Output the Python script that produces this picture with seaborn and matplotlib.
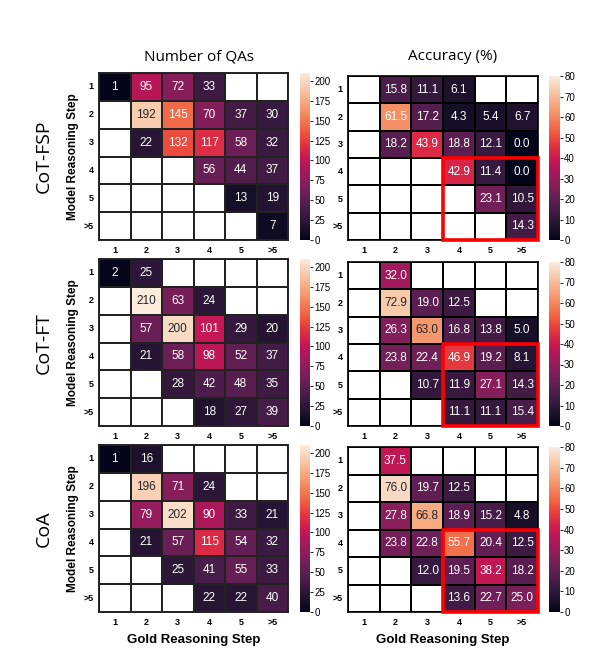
import numpy as np
import pandas as pd
import matplotlib
matplotlib.use("Agg")
import matplotlib.pyplot as plt
import matplotlib.patches as mpatches
import seaborn as sns

nan = np.nan
steps = ["1", "2", "3", "4", "5", ">5"]
methods = ["CoT-FSP", "CoT-FT", "CoA"]

fsp_count = [[1, 95, 72, 33, nan, nan],
             [nan, 192, 145, 70, 37, 30],
             [nan, 22, 132, 117, 58, 32],
             [nan, nan, nan, 56, 44, 37],
             [nan, nan, nan, nan, 13, 19],
             [nan, nan, nan, nan, nan, 7]]
fsp_acc = [[nan, 15.8, 11.1, 6.1, nan, nan],
           [nan, 61.5, 17.2, 4.3, 5.4, 6.7],
           [nan, 18.2, 43.9, 18.8, 12.1, 0.0],
           [nan, nan, nan, 42.9, 11.4, 0.0],
           [nan, nan, nan, nan, 23.1, 10.5],
           [nan, nan, nan, nan, nan, 14.3]]
ft_count = [[2, 25, nan, nan, nan, nan],
            [nan, 210, 63, 24, nan, nan],
            [nan, 57, 200, 101, 29, 20],
            [nan, 21, 58, 98, 52, 37],
            [nan, nan, 28, 42, 48, 35],
            [nan, nan, nan, 18, 27, 39]]
ft_acc = [[nan, 32.0, nan, nan, nan, nan],
          [nan, 72.9, 19.0, 12.5, nan, nan],
          [nan, 26.3, 63.0, 16.8, 13.8, 5.0],
          [nan, 23.8, 22.4, 46.9, 19.2, 8.1],
          [nan, nan, 10.7, 11.9, 27.1, 14.3],
          [nan, nan, nan, 11.1, 11.1, 15.4]]
coa_count = [[1, 16, nan, nan, nan, nan],
             [nan, 196, 71, 24, nan, nan],
             [nan, 79, 202, 90, 33, 21],
             [nan, 21, 57, 115, 54, 32],
             [nan, nan, 25, 41, 55, 33],
             [nan, nan, nan, 22, 22, 40]]
coa_acc = [[nan, 37.5, nan, nan, nan, nan],
           [nan, 76.0, 19.7, 12.5, nan, nan],
           [nan, 27.8, 66.8, 18.9, 15.2, 4.8],
           [nan, 23.8, 22.8, 55.7, 20.4, 12.5],
           [nan, nan, 12.0, 19.5, 38.2, 18.2],
           [nan, nan, nan, 13.6, 22.7, 25.0]]

counts = [fsp_count, ft_count, coa_count]
accs = [fsp_acc, ft_acc, coa_acc]

sns.set_theme(style="white")
plt.rcParams['font.family'] = ['Liberation Sans', 'DejaVu Sans']
plt.rcParams['text.color'] = 'black'
plt.rcParams['axes.labelcolor'] = 'black'
plt.rcParams['xtick.color'] = 'black'
plt.rcParams['ytick.color'] = 'black'

W, H = 610, 659
fig = plt.figure(figsize=(W / 100, H / 100), dpi=100)

def rect(x0, y0, x1, y1):
    return [x0 / W, 1 - y1 / H, (x1 - x0) / W, (y1 - y0) / H]

left_y = [(73, 240), (259, 426), (445, 612)]
right_y = [(76, 240), (262, 426), (447, 612)]

for i in range(3):
    # counts
    ax = fig.add_axes(rect(99, left_y[i][0], 288, left_y[i][1]))
    cax = fig.add_axes(rect(300, left_y[i][0], 310, left_y[i][1]))
    df = pd.DataFrame(counts[i], index=steps, columns=steps)
    sns.heatmap(df, ax=ax, cbar_ax=cax, cmap="rocket", vmin=0, vmax=210,
                annot=True, fmt=".0f", annot_kws={"size": 8.5},
                linewidths=1.4, linecolor="#222222")
    cax.set_yticks(np.arange(0, 201, 25))
    cax.tick_params(labelsize=7, length=2, width=0.6, pad=1, colors="black")
    ax.set_ylabel("Model Reasoning Step", fontsize=8.5, fontweight="bold", labelpad=3)
    ax.set_xlabel("")
    ax.tick_params(axis="both", labelsize=6.5, length=2, width=0.6, pad=2, colors="black")
    ax.set_yticklabels(steps, rotation=0)
    ax.set_xticklabels(steps, rotation=0)
    for t in ax.get_xticklabels() + ax.get_yticklabels():
        t.set_fontweight("bold")
    for s in ax.spines.values():
        s.set_visible(True)
        s.set_color("#222222")
        s.set_linewidth(1.4)
    if i == 2:
        ax.set_xlabel("Gold Reasoning Step", fontsize=9.5, fontweight="bold", labelpad=5)

    # accuracy
    ax2 = fig.add_axes(rect(348, right_y[i][0], 538, right_y[i][1]))
    cax2 = fig.add_axes(rect(549, right_y[i][0], 560, right_y[i][1]))
    df2 = pd.DataFrame(accs[i], index=steps, columns=steps)
    sns.heatmap(df2, ax=ax2, cbar_ax=cax2, cmap="rocket", vmin=0, vmax=80,
                annot=True, fmt=".1f", annot_kws={"size": 8.5},
                linewidths=1.2, linecolor="black")
    cax2.set_yticks(np.arange(0, 81, 10))
    cax2.tick_params(labelsize=7, length=2, width=0.6, pad=1, colors="black")
    ax2.set_ylabel("")
    ax2.set_xlabel("")
    ax2.tick_params(axis="both", labelsize=6.5, length=2, width=0.6, pad=2, colors="black")
    ax2.set_yticklabels(steps, rotation=0)
    ax2.set_xticklabels(steps, rotation=0)
    for t in ax2.get_xticklabels() + ax2.get_yticklabels():
        t.set_fontweight("bold")
    for s in ax2.spines.values():
        s.set_visible(True)
        s.set_color("black")
        s.set_linewidth(1.2)
    ax2.add_patch(mpatches.Rectangle((3, 3), 3, 3, fill=False, edgecolor="red",
                                     linewidth=2.6, clip_on=False, zorder=5))
    if i == 2:
        ax2.set_xlabel("Gold Reasoning Step", fontsize=9.5, fontweight="bold", labelpad=5)

    # row labels
    yc = (left_y[i][0] + left_y[i][1]) / 2
    fig.text(44 / W, 1 - yc / H, methods[i], rotation=90, ha="center", va="center",
             fontsize=14, family=["Open Sans", "DejaVu Sans"])

fig.text(199 / W, 1 - 57 / H, "Number of QAs", ha="center", va="center",
         fontsize=11, family=["Open Sans", "DejaVu Sans"])
fig.text(453 / W, 1 - 57 / H, "Accuracy (%)", ha="center", va="center",
         fontsize=11, family=["Open Sans", "DejaVu Sans"])

fig.savefig("out.png", dpi=100)
